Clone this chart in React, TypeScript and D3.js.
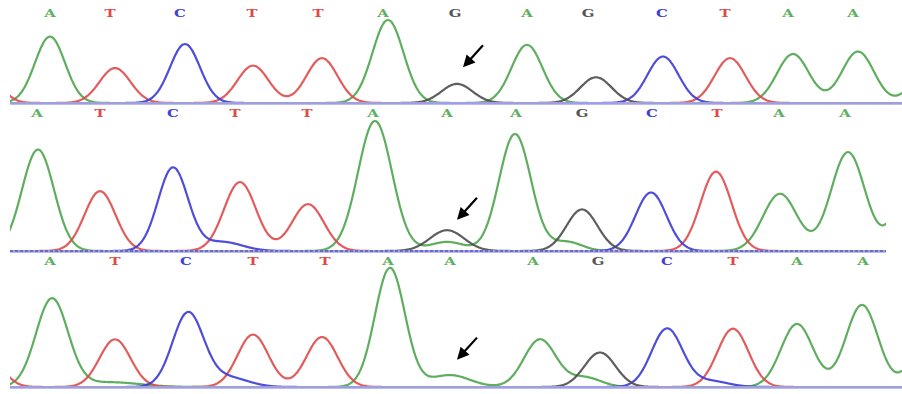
import React, { useEffect, useRef } from "react";
import * as d3 from "d3";

type Base = "A" | "C" | "G" | "T";
// [base, scan position, height (0-100), width]
type Peak = [Base, number, number, number];

const traceColors: Record<Base, string> = {
  A: "#4ea54e",
  C: "#3b3bd4",
  G: "#4d4d4d",
  T: "#e04a4a",
};
const callColors: Record<Base, string> = {
  A: "#5fb05f",
  C: "#4040d8",
  G: "#555555",
  T: "#e24848",
};

// top trace: reference
const calls1: Base[] = ["A", "T", "C", "T", "T", "A", "G", "A", "G", "C", "T", "A", "A"];
const callPos1 = [50, 110, 180, 252, 318, 383, 455, 527, 588, 662, 725, 788, 853];
const peaks1: Peak[] = [
  ["T", -18, 50, 15],
  ["A", 50, 80, 15],
  ["T", 115, 42, 15.5],
  ["C", 185, 71, 15],
  ["T", 253, 45, 15.5],
  ["T", 322, 54, 15.5],
  ["A", 388, 100, 15.5],
  ["G", 457, 23, 15.5],
  ["A", 527, 70, 15.5],
  ["G", 596, 31, 15.5],
  ["C", 663, 56, 15.5],
  ["T", 730, 54, 15.5],
  ["A", 793, 59, 16],
  ["A", 858, 62, 16],
  ["A", 930, 50, 16],
];
const arrow1: [number, number] = [463, 43];

// middle trace: heterozygous
const calls2: Base[] = ["A", "T", "C", "T", "T", "A", "A", "A", "G", "C", "T", "A", "A"];
const callPos2 = [37, 100, 173, 235, 307, 373, 447, 516, 582, 652, 717, 779, 845];
const peaks2: Peak[] = [
  ["A", 38, 78, 16],
  ["T", 100, 46, 15.5],
  ["C", 173, 64, 15],
  ["C", 222, 7, 20],
  ["T", 240, 53, 16],
  ["T", 308, 36, 16],
  ["A", 375, 100, 17],
  ["G", 447, 16, 17],
  ["A", 447, 7, 17],
  ["A", 515, 90, 16],
  ["A", 567, 7, 15],
  ["G", 582, 32, 15.5],
  ["C", 651, 45, 15.5],
  ["T", 716, 61, 15.5],
  ["A", 780, 44, 17],
  ["A", 848, 76, 17],
  ["A", 912, 55, 16],
];
const arrow2: [number, number] = [457, 24];

// bottom trace: homozygous
const calls3: Base[] = ["A", "T", "C", "T", "T", "A", "A", "A", "G", "C", "T", "A", "A"];
const callPos3 = [50, 115, 186, 253, 325, 388, 450, 533, 598, 667, 733, 797, 863];
const peaks3: Peak[] = [
  ["T", -10, 22, 14],
  ["A", 52, 74, 16],
  ["A", 110, 4, 30],
  ["T", 115, 40, 15.5],
  ["C", 188, 62, 15.5],
  ["C", 228, 8, 20],
  ["T", 253, 44, 15.5],
  ["T", 322, 42, 15.5],
  ["A", 390, 100, 15],
  ["A", 450, 10, 20],
  ["A", 540, 40, 16],
  ["A", 585, 8, 16],
  ["G", 600, 29, 15.5],
  ["C", 667, 49, 15.5],
  ["C", 710, 5, 18],
  ["T", 733, 49, 15.5],
  ["A", 797, 53, 16],
  ["A", 862, 69, 16],
  ["A", 930, 50, 16],
];
const arrow3: [number, number] = [457, 23];

const panels = [
  { calls: calls1, callPos: callPos1, peaks: peaks1, arrow: arrow1, base: 103, top: 20, labelY: 13, end: 902, dashed: false },
  { calls: calls2, callPos: callPos2, peaks: peaks2, arrow: arrow2, base: 251, top: 121, labelY: 113, end: 886, dashed: true },
  { calls: calls3, callPos: callPos3, peaks: peaks3, arrow: arrow3, base: 387, top: 268, labelY: 261, end: 902, dashed: false },
];

const App: React.FC = () => {
  const svgRef = useRef<SVGSVGElement>(null);

  useEffect(() => {
    if (!svgRef.current) return;
    const width = 902;
    const height = 394;
    const svg = d3.select(svgRef.current);
    svg.selectAll("*").remove();
    svg.attr("width", width).attr("height", height);

    svg.append("rect").attr("width", width).attr("height", height).attr("fill", "#fff");

    const x = d3.scaleLinear().domain([0, 902]).range([0, 902]);

    panels.forEach((p, pi) => {
      const y = d3.scaleLinear().domain([0, 100]).range([p.base, p.top]);
      const g = svg.append("g");

      const clipId = `clip-${pi}`;
      svg
        .append("defs")
        .append("clipPath")
        .attr("id", clipId)
        .append("rect")
        .attr("x", 10)
        .attr("y", p.labelY + 4)
        .attr("width", p.end - 10)
        .attr("height", p.base - p.labelY);

      // traces
      const samples = d3.range(0, 903, 1);
      const traceG = g.append("g").attr("clip-path", `url(#${clipId})`);
      (["A", "T", "C", "G"] as Base[]).forEach((b) => {
        const ps = p.peaks.filter((d) => d[0] === b);
        const pts: [number, number][] = samples.map((s) => {
          const v = d3.sum(ps, (d) => d[2] * Math.exp(-((s - d[1]) ** 2) / (2 * d[3] * d[3])));
          return [x(s), y(v)];
        });
        traceG
          .append("path")
          .attr("d", d3.line().curve(d3.curveMonotoneX)(pts) || "")
          .attr("fill", "none")
          .attr("stroke", traceColors[b])
          .attr("stroke-width", 2.2)
          .attr("stroke-opacity", 0.9)
          .attr("stroke-linejoin", "round");
      });

      // baseline band
      g.append("rect")
        .attr("x", 10)
        .attr("y", p.base - 1)
        .attr("width", p.end - 10)
        .attr("height", 3)
        .attr("fill", "#aeaef2")
        .attr("opacity", 0.85);
      if (p.dashed) {
        g.append("line")
          .attr("x1", 10)
          .attr("x2", p.end)
          .attr("y1", p.base)
          .attr("y2", p.base)
          .attr("stroke", "#3434a8")
          .attr("stroke-width", 1)
          .attr("stroke-dasharray", "3,2");
      }

      // base calls
      p.calls.forEach((c, i) => {
        const cx = x(p.callPos[i]);
        g.append("text")
          .attr("transform", `translate(${cx}, ${p.labelY}) scale(1.35, 1)`)
          .attr("text-anchor", "middle")
          .attr("dominant-baseline", "central")
          .style("font-family", "'DejaVu Serif', serif")
          .style("font-size", "11px")
          .style("font-weight", "bold")
          .style("fill", callColors[c])
          .text(c);
      });

      // arrow to the variant position
      const tipX = x(p.arrow[0]);
      const tipY = y(p.arrow[1]);
      const tailX = tipX + 20;
      const tailY = tipY - 22;
      const len = Math.hypot(tipX - tailX, tipY - tailY);
      const ux = (tipX - tailX) / len;
      const uy = (tipY - tailY) / len;
      const headLen = 12;
      const headW = 6;
      const bx = tipX - ux * headLen;
      const by = tipY - uy * headLen;
      g.append("line")
        .attr("x1", tailX)
        .attr("y1", tailY)
        .attr("x2", bx + ux * 2)
        .attr("y2", by + uy * 2)
        .attr("stroke", "#000")
        .attr("stroke-width", 2.2);
      g.append("path")
        .attr(
          "d",
          `M${tipX},${tipY}L${bx - uy * headW},${by + ux * headW}L${bx + uy * headW},${by - ux * headW}Z`
        )
        .attr("fill", "#000");
    });
  }, []);

  return (
    <div style={{ position: "absolute", left: 0, top: 0, width: 902, height: 394, background: "#fff" }}>
      <svg ref={svgRef} style={{ display: "block" }}></svg>
    </div>
  );
};

export default App;
